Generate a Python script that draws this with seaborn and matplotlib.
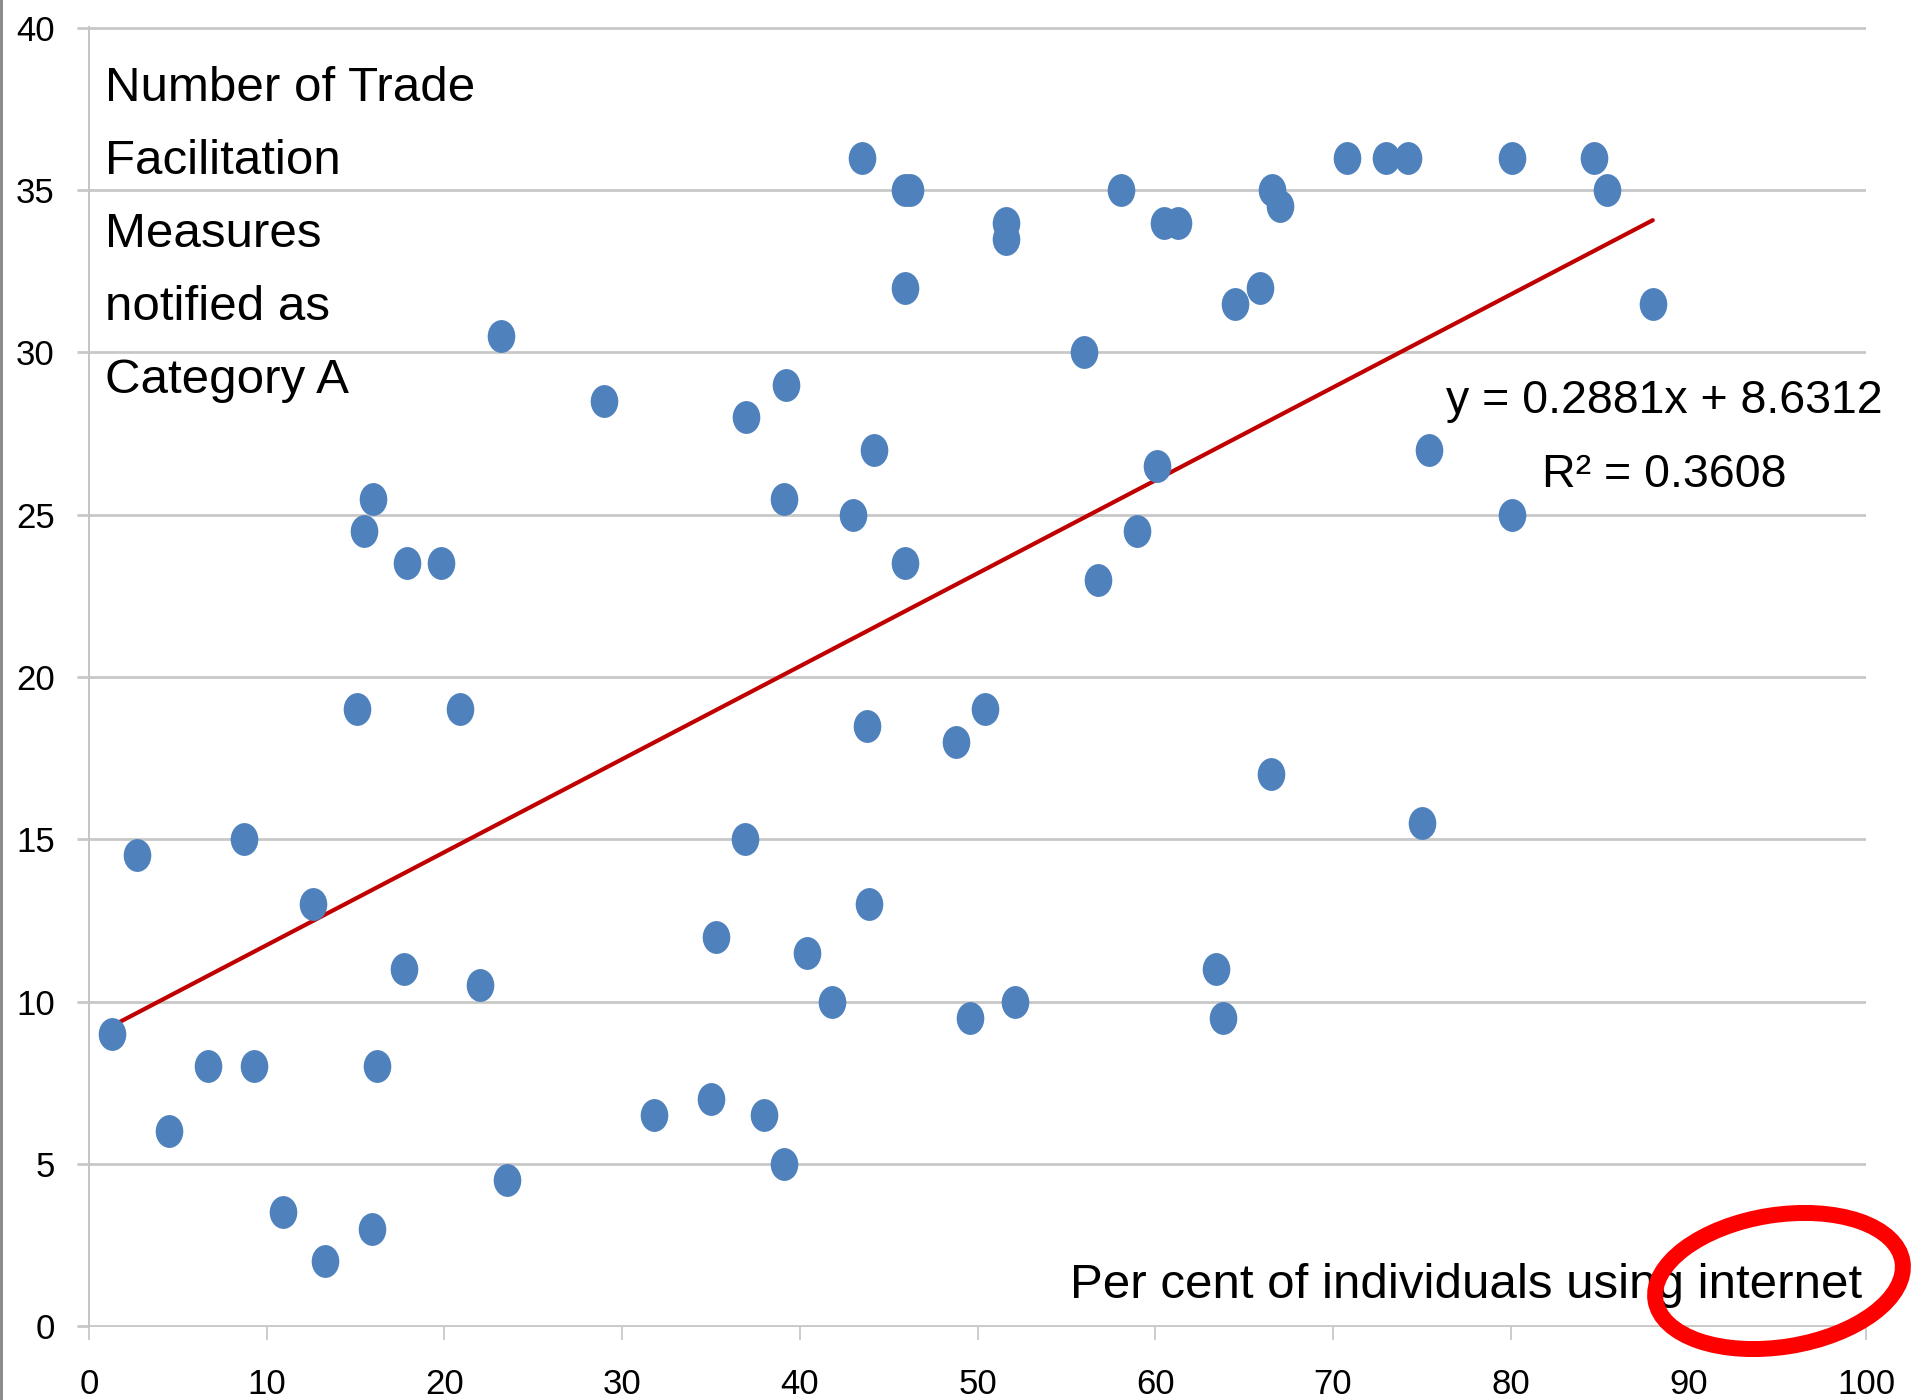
"""Scatter of TFA Category A notifications vs internet use, with linear trend."""

import matplotlib.pyplot as plt
import numpy as np
import pandas as pd
import seaborn as sns
from matplotlib.patches import Ellipse, Rectangle
from matplotlib.path import Path
from matplotlib.transforms import Affine2D, IdentityTransform

# per cent of individuals using internet (x) and number of measures notified as Category A (y)
internet_pct = [
    1.3, 2.7, 4.5, 6.7, 8.7, 9.3, 10.9, 12.6, 13.3, 15.1,
    15.5, 16.0, 15.9, 16.2, 17.7, 17.9, 19.8, 20.9, 22.0, 23.2,
    23.5, 29.0, 31.8, 35.0, 35.3, 36.9, 37.0, 38.0, 39.1, 39.1,
    39.2, 40.4, 41.8, 43.0, 43.5, 43.8, 43.9, 44.2, 45.9, 45.9,
    45.9, 46.2, 48.8, 49.6, 50.4, 51.6, 51.6, 52.1, 56.0, 56.8,
    58.1, 59.0, 60.1, 60.5, 61.3, 63.4, 63.8, 64.5, 65.9, 66.5,
    66.6, 67.0, 70.8, 73.0, 74.2, 75.0, 75.4, 80.1, 80.1, 84.7,
    85.4, 88.0,
]
cat_a_measures = [
    9.0, 14.5, 6.0, 8.0, 15.0, 8.0, 3.5, 13.0, 2.0, 19.0,
    24.5, 25.5, 3.0, 8.0, 11.0, 23.5, 23.5, 19.0, 10.5, 30.5,
    4.5, 28.5, 6.5, 7.0, 12.0, 15.0, 28.0, 6.5, 5.0, 25.5,
    29.0, 11.5, 10.0, 25.0, 36.0, 18.5, 13.0, 27.0, 32.0, 23.5,
    35.0, 35.0, 18.0, 9.5, 19.0, 34.0, 33.5, 10.0, 30.0, 23.0,
    35.0, 24.5, 26.5, 34.0, 34.0, 11.0, 9.5, 31.5, 32.0, 17.0,
    35.0, 34.5, 36.0, 36.0, 36.0, 15.5, 27.0, 36.0, 25.0, 36.0,
    35.0, 31.5,
]

x_ticks = list(range(0, 101, 10))
y_ticks = list(range(0, 41, 5))

y_title_lines = ["Number of Trade", "Facilitation", "Measures", "notified as", "Category A"]
x_title = "Per cent of individuals using internet"
fit_text = "y = 0.2881x + 8.6312"
r2_text = "R² = 0.3608"

DOT_BLUE = "#4F81BD"
TREND_RED = "#C00000"
GRID_GREY = "#c8c8c8"

df = pd.DataFrame({"internet": internet_pct, "measures": cat_a_measures})

sns.set_style("white")
plt.rcParams["font.family"] = ["Liberation Sans", "DejaVu Sans"]
plt.rcParams["text.color"] = "black"

fig = plt.figure(figsize=(19.17, 14), dpi=100)
ax = fig.add_axes([0.04643, 0.05214, 0.92697, 0.92857])

# slightly tall oval marker, like the source picture
oval = Path.unit_circle().transformed(Affine2D().scale(0.84, 1.0))

sns.regplot(data=df, x="internet", y="measures", ax=ax, scatter=False, ci=None,
            truncate=True, line_kws={"color": TREND_RED, "lw": 3.0, "zorder": 2})
sns.scatterplot(data=df, x="internet", y="measures", ax=ax, marker=oval, s=560,
                color=DOT_BLUE, linewidth=0, zorder=3)

ax.set_xlim(0, 100)
ax.set_ylim(-0.03, 40.03)
ax.set_xticks(x_ticks)
ax.set_yticks(y_ticks)
ax.set_xlabel("")
ax.set_ylabel("")

ax.grid(axis="y", color=GRID_GREY, lw=2.0)
ax.grid(axis="x", visible=False)
ax.set_axisbelow(True)
for side in ["top", "right", "bottom"]:
    ax.spines[side].set_visible(False)
ax.spines["left"].set_color("#c4c4c4")
ax.spines["left"].set_linewidth(1.4)

ax.tick_params(axis="y", which="both", left=True, direction="out", length=8.6,
               width=2.0, color=GRID_GREY, pad=16, labelsize=25, labelcolor="black")
ax.tick_params(axis="x", which="both", bottom=True, direction="out", length=9.4,
               width=1.2, color="#c4c4c4", pad=20, labelsize=25, labelcolor="black")

# y title as a stacked text block inside the plot, one baseline per line
for i, line in enumerate(y_title_lines):
    ax.text(0.9, 37.75 - i * 2.25, line, fontsize=35.5, ha="left", va="baseline")
ax.text(99.8, 0.86, x_title, fontsize=35.5, ha="right", va="baseline")
ax.text(88.66, 28.15, fit_text, fontsize=33.5, ha="center", va="baseline")
ax.text(88.66, 25.85, r2_text, fontsize=33.5, ha="center", va="baseline")

# red hand-drawn style highlight around "internet"
ring = Ellipse((1779, 119), 250, 132, angle=9, fill=False, edgecolor="#ff0000",
               lw=11.5, transform=IdentityTransform(), zorder=10)
fig.add_artist(ring)

# grey border at the left edge of the picture
fig.add_artist(Rectangle((0, 0), 3 / 1917, 1, transform=fig.transFigure,
                         color="#8c8c8c", lw=0))

fig.savefig("out.png", dpi=100)
plt.close(fig)
